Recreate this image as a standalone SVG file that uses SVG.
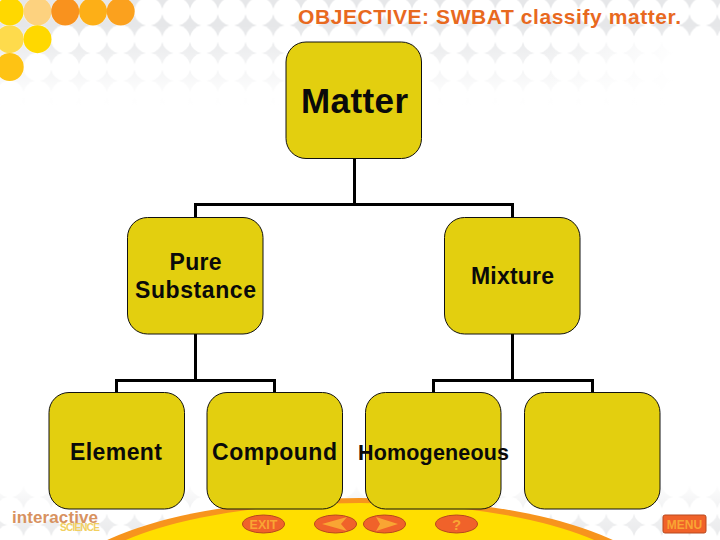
<svg xmlns="http://www.w3.org/2000/svg" width="720" height="540" viewBox="0 0 720 540">
<style>
.n{fill:#e3cf0f;stroke:#111;stroke-width:1}
.t{font-family:"Liberation Sans",Arial,sans-serif;font-weight:bold;fill:#0a0a0a;text-anchor:middle}
.c{fill:none;stroke:#000;stroke-width:3}
.b{fill:#f0622a;stroke:#b8481e;stroke-width:1}
.o{fill:#f9a533}
.l{font-family:"Liberation Sans",Arial,sans-serif;font-weight:bold;text-anchor:middle}
</style>
<defs>
<pattern id="dots" width="27.75" height="27.75" patternUnits="userSpaceOnUse" x="-4.2" y="-2.4">
<rect width="27.75" height="27.75" fill="#e6e7e9"/>
<circle cx="13.875" cy="13.875" r="14.1" fill="#fff"/>
</pattern>
<linearGradient id="fadeTop" gradientUnits="userSpaceOnUse" x1="0" y1="0" x2="0" y2="105">
<stop offset=".24" stop-color="#fff" stop-opacity="0"/>
<stop offset=".5" stop-color="#fff" stop-opacity=".35"/>
<stop offset=".76" stop-color="#fff" stop-opacity=".72"/>
<stop offset="1" stop-color="#fff" stop-opacity="1"/>
</linearGradient>
<linearGradient id="fadeRight" gradientUnits="userSpaceOnUse" x1="540" y1="0" x2="680" y2="0">
<stop offset="0" stop-color="#fff" stop-opacity="0"/>
<stop offset="1" stop-color="#fff" stop-opacity="1"/>
</linearGradient>
<linearGradient id="fadeBot" x1="0" y1="1" x2="0" y2="0">
<stop offset="0" stop-color="#fff" stop-opacity=".1"/>
<stop offset=".5" stop-color="#fff" stop-opacity=".45"/>
<stop offset="1" stop-color="#fff" stop-opacity="1"/>
</linearGradient>
</defs>
<g id="background">
<rect width="720" height="540" fill="#fff"/>
<rect width="720" height="110" fill="url(#dots)"/>
<rect width="720" height="110" fill="url(#fadeTop)"/>
<rect y="36" width="720" height="74" fill="url(#fadeRight)"/>
<rect y="480" width="720" height="60" fill="url(#dots)"/>
<rect y="480" width="720" height="60" fill="url(#fadeBot)"/>
<circle cx="9.7" cy="11.500" r="14" fill="#ffd800"/>
<circle cx="37.500" cy="11.500" r="14" fill="#fdd27f"/>
<circle cx="65.200" cy="11.500" r="14" fill="#f9921e"/>
<circle cx="93" cy="11.500" r="14" fill="#fdaf17"/>
<circle cx="120.700" cy="11.500" r="14" fill="#fba11e"/>
<circle cx="9.7" cy="39.200" r="14" fill="#fedb4c"/>
<circle cx="37.500" cy="39.200" r="14" fill="#ffd800"/>
<circle cx="9.7" cy="67" r="14" fill="#fec314"/>
<ellipse cx="360" cy="589" rx="300" ry="91" fill="#f7941d"/>
<ellipse cx="360" cy="589" rx="285" ry="86" fill="#ffde00"/>
</g>
<g id="connectors" class="c">
<path class="c" d="M354.500 158V204.500M195.500 217V204.500H512.500V217"/>
<path class="c" d="M195.500 334V380.500M116.500 392V380.500H274.500V392"/>
<path class="c" d="M512.500 334V380.500M433.500 392V380.500H592.500V392"/>
</g>
<g id="matter"><rect class="n" x="286" y="42" width="135.500" height="116.500" rx="20"/><text class="t" x="354.500" y="113" font-size="35" textLength="107">Matter</text></g>
<g id="pure-substance"><rect class="n" x="127.500" y="217.500" width="135.500" height="116.500" rx="20"/><text class="t" x="195.500" y="269.500" font-size="23" textLength="52">Pure</text><text class="t" x="195.500" y="298" font-size="23" textLength="121">Substance</text></g>
<g id="mixture"><rect class="n" x="444.500" y="217.500" width="135.500" height="116.500" rx="20"/><text class="t" x="512.500" y="284" font-size="23" textLength="83">Mixture</text></g>
<g id="element"><rect class="n" x="49" y="392.500" width="135.500" height="116.500" rx="20"/><text class="t" x="116" y="459.500" font-size="23" textLength="92">Element</text></g>
<g id="compound"><rect class="n" x="207" y="392.500" width="135.500" height="116.500" rx="20"/><text class="t" x="274.500" y="459.500" font-size="23" textLength="125">Compound</text></g>
<g id="homogeneous"><rect class="n" x="365.500" y="392.500" width="135.500" height="116.500" rx="20"/><text class="t" x="433.500" y="459.500" font-size="21.500" textLength="151">Homogeneous</text></g>
<g id="empty"><rect class="n" x="524.500" y="392.500" width="135.500" height="116.500" rx="20"/></g>
<g id="title"><text class="l" x="489.500" y="24" font-size="21" fill="#e8691f" textLength="383">OBJECTIVE: SWBAT classify matter.</text></g>
<g id="logo">
<text class="l" x="55" y="523" font-size="17" fill="#d8925f" textLength="86">interactive</text>
<text class="l" x="80" y="531" font-size="10" fill="#f2d060" textLength="40">SCIENCE</text>
</g>
<g id="exit"><ellipse class="b" cx="263.500" cy="524" rx="21" ry="9"/><text class="l o" x="263.500" y="528.500" font-size="12.500">EXIT</text></g>
<g id="back"><ellipse class="b" cx="335.500" cy="524" rx="21" ry="9"/><path class="o" d="M322 524L347 517L341 524L347 531Z"/></g>
<g id="next"><ellipse class="b" cx="384.500" cy="524" rx="21" ry="9"/><path class="o" d="M398 524L376 517L380 524L376 531Z"/></g>
<g id="help"><ellipse class="b" cx="456.500" cy="524" rx="21" ry="9"/><text class="l o" x="456.500" y="530" font-size="15">?</text></g>
<g id="menu"><rect class="b" x="663" y="515" width="43" height="18" rx="2"/><text class="l o" x="684.500" y="528.500" font-size="12">MENU</text></g>
</svg>
